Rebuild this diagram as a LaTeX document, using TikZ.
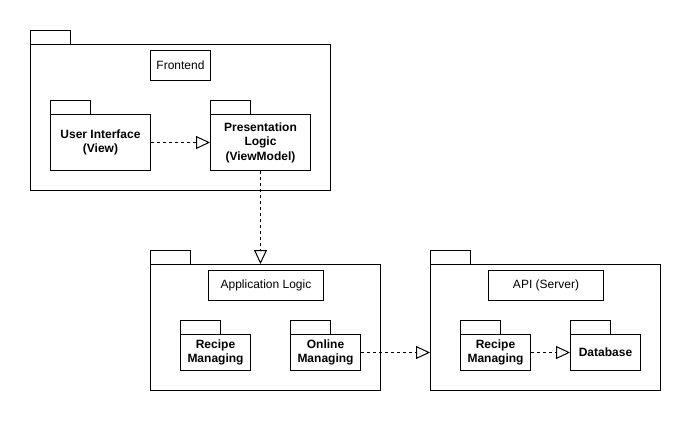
\documentclass[tikz,border=0pt]{standalone}
\usepackage{fontspec}
\setmainfont{Liberation Sans}
\usetikzlibrary{arrows.meta}
\begin{document}
\begin{tikzpicture}[x=1pt,y=-1pt,
  pkgbody/.style={draw=black, line width=1pt, inner sep=0pt, align=center,
    font=\bfseries\fontsize{12}{14.4}\selectfont},
  pkgtab/.style={draw=black, line width=1pt},
  lbl/.style={draw=black, line width=1pt, inner sep=0pt,
    font=\fontsize{12}{14.4}\selectfont},
  dep/.style={line width=1pt, dash pattern=on 3pt off 3pt,
    -{Triangle[open, length=14pt, width=13pt]}}
]
\useasboundingbox[fill=white] (-0.5,-0.5) rectangle (690.5,420.5);

% Frontend
\node[pkgbody, minimum width=300pt, minimum height=146pt] (fe) at (180,117) {};
\draw[pkgtab] (fe.north west) rectangle ++(40,-14);
\node[lbl, minimum width=60pt, minimum height=30pt] (fel) at (180,65) {Frontend};
\node[pkgbody, minimum width=100pt, minimum height=56pt] (ui) at (100,142) {User Interface\\(View)};
\draw[pkgtab] (ui.north west) rectangle ++(40,-14);
\node[pkgbody, minimum width=100pt, minimum height=56pt] (pl) at (260,142) {Presentation\\Logic\\(ViewModel)};
\draw[pkgtab] (pl.north west) rectangle ++(40,-14);

% Application Logic
\node[pkgbody, minimum width=230pt, minimum height=126pt] (app) at (265,327) {};
\draw[pkgtab] (app.north west) rectangle ++(40,-14);
\node[lbl, minimum width=115pt, minimum height=30pt] (appl) at (265.5,285) {Application Logic};
\node[pkgbody, minimum width=70pt, minimum height=36pt] (rma) at (215,352) {Recipe\\Managing};
\draw[pkgtab] (rma.north west) rectangle ++(40,-14);
\node[pkgbody, minimum width=70pt, minimum height=36pt] (om) at (325,352) {Online\\Managing};
\draw[pkgtab] (om.north west) rectangle ++(40,-14);

% API
\node[pkgbody, minimum width=230pt, minimum height=126pt] (api) at (545,327) {};
\draw[pkgtab] (api.north west) rectangle ++(40,-14);
\node[lbl, minimum width=115pt, minimum height=30pt] (apil) at (545.5,285) {API (Server)};
\node[pkgbody, minimum width=70pt, minimum height=36pt] (rmb) at (495,352) {Recipe\\Managing};
\draw[pkgtab] (rmb.north west) rectangle ++(40,-14);
\node[pkgbody, minimum width=70pt, minimum height=36pt] (db) at (605,352) {Database};
\draw[pkgtab] (db.north west) rectangle ++(40,-14);

% dependencies
\draw[dep] (ui.east) -- (pl.west);
\draw[dep] (pl.south) -- (pl.south |- app.north);
\draw[dep] (om.east) -- (om.east -| api.west);
\draw[dep] (rmb.east) -- (db.west);
\end{tikzpicture}
\end{document}
